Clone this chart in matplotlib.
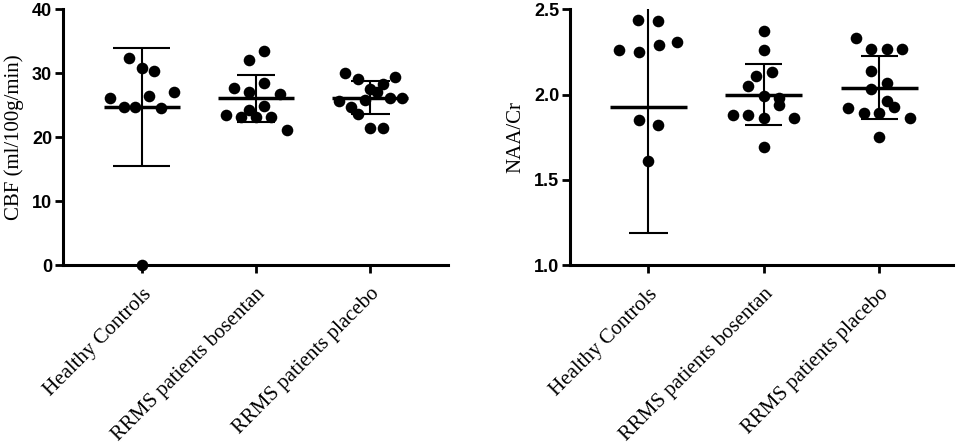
import matplotlib
matplotlib.use('Agg')
import matplotlib.pyplot as plt
import numpy as np

# Catégories
groupes = ['Healthy Controls', 'RRMS patients bosentan', 'RRMS patients placebo']

# CBF (ml/100g/min) : décalage horizontal et valeur de chaque point
cbf_hc_dx = [-0.28, -0.11, 0.0, 0.11, -0.16, -0.06, 0.06, 0.17, 0.28, 0.0]
cbf_hc = [26.2, 32.4, 30.8, 30.4, 24.7, 24.7, 26.5, 24.6, 27.0, 0.0]
cbf_bo_dx = [-0.06, 0.07, -0.19, -0.06, 0.07, 0.21, -0.26, -0.06, 0.07, -0.13, 0.0, 0.13, 0.27]
cbf_bo = [32.1, 33.5, 27.7, 27.0, 28.4, 26.8, 23.5, 24.3, 24.9, 23.1, 23.1, 23.1, 21.1]
cbf_pl_dx = [-0.22, -0.11, 0.22, 0.11, 0.0, 0.06, 0.17, 0.28, -0.27, -0.05, -0.17, -0.11, 0.0, 0.11]
cbf_pl = [30.0, 29.1, 29.4, 28.3, 27.5, 27.0, 26.2, 26.2, 25.7, 25.8, 24.8, 23.7, 21.5, 21.5]
cbf_moy = [24.7, 26.1, 26.2]
cbf_et = [9.2, 3.7, 2.6]

# NAA/Cr
naa_hc_dx = [-0.09, 0.08, -0.25, -0.08, 0.09, 0.25, -0.08, 0.08, 0.0]
naa_hc = [2.44, 2.43, 2.26, 2.25, 2.29, 2.31, 1.85, 1.82, 1.61]
naa_bo_dx = [0.0, 0.0, -0.07, 0.07, -0.14, 0.0, 0.13, 0.13, -0.27, -0.14, 0.0, 0.26, 0.0]
naa_bo = [2.37, 2.26, 2.11, 2.13, 2.05, 1.99, 1.98, 1.94, 1.88, 1.88, 1.86, 1.86, 1.69]
naa_pl_dx = [-0.2, -0.07, 0.07, 0.2, -0.07, 0.07, -0.07, 0.07, 0.13, -0.27, -0.13, 0.0, 0.27, 0.0]
naa_pl = [2.33, 2.27, 2.27, 2.27, 2.14, 2.07, 2.03, 1.96, 1.93, 1.92, 1.89, 1.89, 1.86, 1.75]
naa_moy = [1.93, 2.00, 2.04]
naa_et = [0.74, 0.18, 0.185]

plt.close()
fig = plt.figure(figsize=(9.57, 4.44), dpi=100)
ax1 = fig.add_axes([0.066, 0.403, 0.402, 0.576])
ax2 = fig.add_axes([0.596, 0.403, 0.400, 0.576])


def trace(ax, dxs, vals, moy, et, caps):
    for i, (dx, v) in enumerate(zip(dxs, vals)):
        ax.scatter(i + np.array(dx), v, s=70, color='black', zorder=3, clip_on=False, linewidths=0)
    for i in range(len(moy)):
        ax.hlines(moy[i], i - 0.335, i + 0.335, color='black', lw=2.5, zorder=2)
        ax.vlines(i, moy[i] - et[i], moy[i] + et[i], color='black', lw=1.5, zorder=2)
        ax.hlines([moy[i] - et[i], moy[i] + et[i]], i - caps[i], i + caps[i], color='black', lw=1.5, zorder=2)


def habille(ax, ylab, ylim, yticks, fmt):
    for c in ['top', 'right']:
        ax.spines[c].set_visible(False)
    for c in ['left', 'bottom']:
        ax.spines[c].set_linewidth(2.2)
    ax.set_ylim(*ylim)
    ax.set_yticks(yticks)
    ax.set_yticklabels([fmt.format(t) for t in yticks], fontfamily='Liberation Sans',
                       fontweight='bold', fontsize=13)
    ax.set_xticks(range(3))
    ax.set_xticklabels(groupes, rotation=45, ha='right', rotation_mode='anchor',
                       fontfamily='Liberation Serif', fontsize=15)
    ax.tick_params(width=2, length=6, pad=2)
    ax.tick_params(axis='x', pad=8)
    ax.set_ylabel(ylab, fontfamily='Liberation Serif', fontsize=15, labelpad=6)


trace(ax1, [cbf_hc_dx, cbf_bo_dx, cbf_pl_dx], [cbf_hc, cbf_bo, cbf_pl], cbf_moy, cbf_et,
      [0.25, 0.17, 0.17])
habille(ax1, 'CBF (ml/100g/min)', (0, 40), [0, 10, 20, 30, 40], '{:.0f}')
ax1.set_xlim(-0.69, 2.68)

trace(ax2, [naa_hc_dx, naa_bo_dx, naa_pl_dx], [naa_hc, naa_bo, naa_pl], naa_moy, naa_et,
      [0.17, 0.16, 0.16])
habille(ax2, 'NAA/Cr', (1.0, 2.5), [1.0, 1.5, 2.0, 2.5], '{:.1f}')
ax2.set_xlim(-0.675, 2.64)

fig.savefig('out.png', dpi=100)
